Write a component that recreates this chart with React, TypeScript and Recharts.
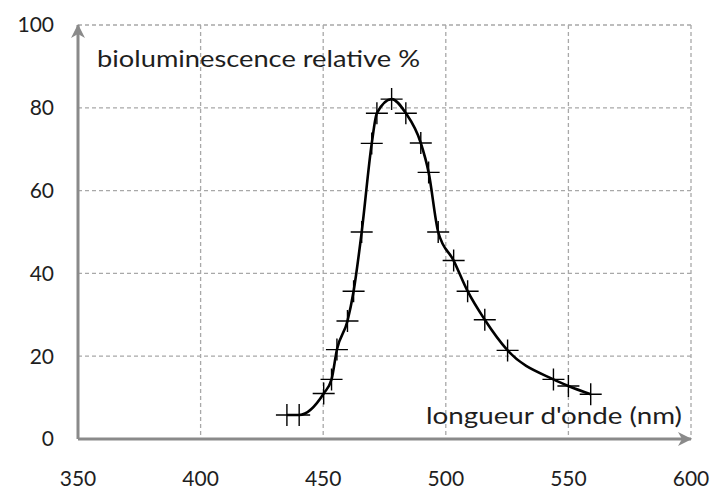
import React from 'react';
import { ComposedChart, Line, XAxis, YAxis, CartesianGrid, ReferenceDot } from 'recharts';

const wavelengths = [435.2, 440.2, 450.2, 453.4, 455.6, 459.9, 462.4, 465.7, 469.8, 471.9, 477.9, 483.7, 489.8, 493.0, 496.9, 503.2, 508.9, 515.9, 525.2, 543.9, 550.0, 559.1];
const intensities = [5.8, 5.8, 11.0, 14.4, 21.6, 28.5, 35.7, 50.0, 71.4, 78.7, 82.1, 78.7, 71.5, 64.4, 50.0, 43.1, 35.7, 28.8, 21.4, 14.4, 12.8, 10.8];
const xTicks = [350, 400, 450, 500, 550, 600];
const yTicks = [0, 20, 40, 60, 80, 100];
const yLabel = 'bioluminescence relative %';
const xLabel = "longueur d'onde (nm)";

const data = wavelengths.map((x, i) => ({ x, y: intensities[i] }));

const AXIS = '#8a8a8a';
const FONT = 'Lato, "Open Sans", sans-serif';

const Cross = (props: any) => {
  const { cx, cy } = props;
  if (cx == null || cy == null) return null;
  const s = 11;
  return (
    <path
      d={`M${cx - s},${cy}H${cx + s}M${cx},${cy - s}V${cy + s}`}
      stroke="#000"
      strokeWidth={1.4}
      fill="none"
    />
  );
};

const UpArrow = (props: any) => {
  const { cx, cy } = props;
  if (cx == null || cy == null) return null;
  return <path d={`M${cx},${cy - 1}L${cx + 7},${cy + 13}L${cx},${cy + 9}L${cx - 7},${cy + 13}Z`} fill={AXIS} />;
};

const RightArrow = (props: any) => {
  const { cx, cy } = props;
  if (cx == null || cy == null) return null;
  return <path d={`M${cx + 1},${cy}L${cx - 13},${cy - 7}L${cx - 9},${cy}L${cx - 13},${cy + 7}Z`} fill={AXIS} />;
};

export default function App() {
  return (
    <div style={{ position: 'absolute', left: 0, top: 0, width: 713, height: 491, background: '#fff' }}>
      <ComposedChart width={713} height={491} data={data} margin={{ top: 25, right: 22, bottom: 0, left: 0 }}>
        <CartesianGrid stroke="#a8a8a8" strokeDasharray="4 3" strokeWidth={1.3} />
        <XAxis
          dataKey="x"
          type="number"
          domain={[350, 600]}
          ticks={xTicks}
          interval={0}
          height={52}
          tickLine={false}
          tickSize={0}
          tickMargin={32}
          axisLine={{ stroke: AXIS, strokeWidth: 3 }}
          tick={{ fontFamily: FONT, fontSize: 21, fill: '#1e1e1e' }}
        />
        <YAxis
          type="number"
          domain={[0, 100]}
          ticks={yTicks}
          interval={0}
          width={78}
          tickLine={false}
          tickSize={0}
          tickMargin={24}
          axisLine={{ stroke: AXIS, strokeWidth: 3 }}
          tick={{ fontFamily: FONT, fontSize: 21, fill: '#1e1e1e' }}
        />
        <Line
          dataKey="y"
          type="monotone"
          stroke="#000"
          strokeWidth={2.6}
          dot={<Cross />}
          activeDot={false}
          isAnimationActive={false}
        />
        <ReferenceDot x={350} y={100} r={0} shape={<UpArrow />} ifOverflow="visible" />
        <ReferenceDot x={600} y={0} r={0} shape={<RightArrow />} ifOverflow="visible" />
      </ComposedChart>
      <svg width={713} height={491} style={{ position: 'absolute', left: 0, top: 0, pointerEvents: 'none' }}>
        <text x={97} y={67} fontFamily={FONT} fontSize={23} fill="#1e1e1e" textLength={323} lengthAdjust="spacingAndGlyphs">
          {yLabel}
        </text>
        <text x={426} y={424} fontFamily={FONT} fontSize={23} fill="#1e1e1e" textLength={256} lengthAdjust="spacingAndGlyphs">
          {xLabel}
        </text>
      </svg>
    </div>
  );
}
